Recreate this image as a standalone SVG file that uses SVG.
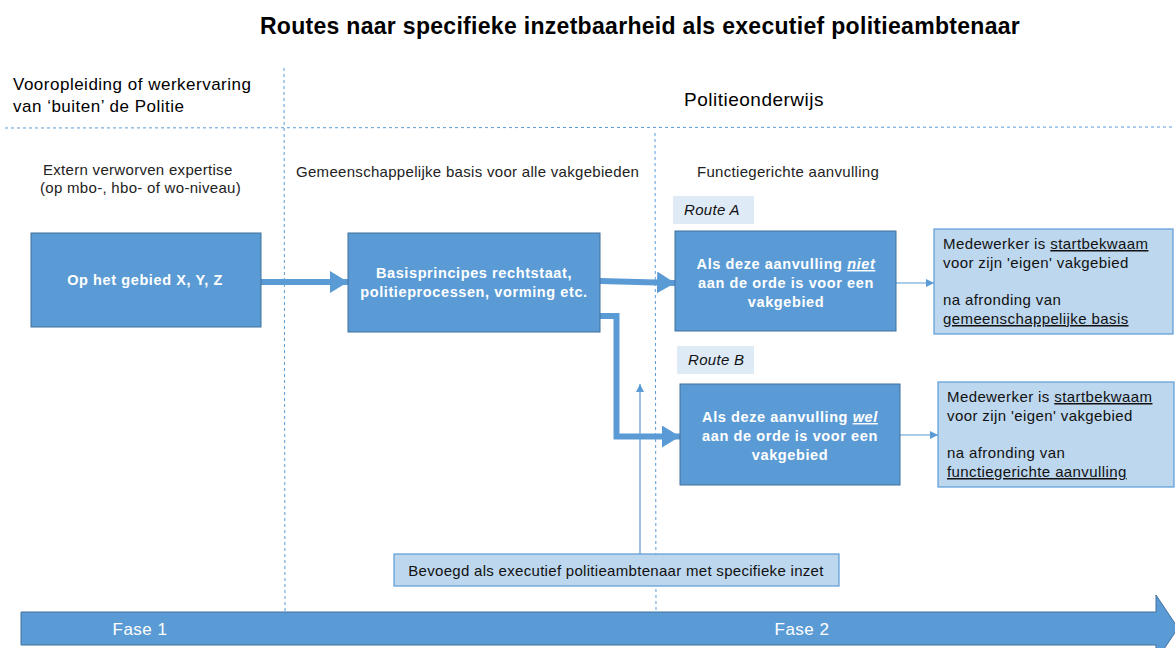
<svg xmlns="http://www.w3.org/2000/svg" width="1175" height="648" viewBox="0 0 1175 648">
  <style>
    text { font-family: "Liberation Sans", Arial, sans-serif; }
    .title { font-size: 23px; font-weight: bold; fill: #000; letter-spacing: 0.3px; }
    .head { font-size: 17px; fill: #000; letter-spacing: 0.5px; }
    .head2 { font-size: 19px; fill: #000; letter-spacing: 0.5px; }
    .sub { font-size: 15px; fill: #222; letter-spacing: 0.3px; }
    .box { fill: #5B9BD5; stroke: #41719C; stroke-width: 1; }
    .lbox { fill: #BDD7EE; stroke: #5B9BD5; stroke-width: 1.2; }
    .tag { fill: #DEEBF7; }
    .btxt { font-size: 14.5px; font-weight: bold; fill: #fff; text-anchor: middle; letter-spacing: 0.6px; }
    .ltxt { font-size: 15px; fill: #111; letter-spacing: 0.4px; }
    .mtxt { font-size: 15px; fill: #111; letter-spacing: 0.3px; }
    .itxt { font-size: 15px; font-style: italic; fill: #111; letter-spacing: 0.3px; }
    .grid { stroke: #5B9BD5; stroke-width: 1; stroke-dasharray: 3 3; fill: none; }
    .thick { stroke: #5B9BD5; stroke-width: 6; fill: none; }
    .thin { stroke: #5B9BD5; stroke-width: 1.2; fill: none; }
    .fase { font-size: 17px; fill: #fff; text-anchor: middle; letter-spacing: 0.5px; }
  </style>
  <defs>
    <marker id="big" markerUnits="userSpaceOnUse" viewBox="0 0 18 22" refX="18" refY="11" markerWidth="18" markerHeight="22" orient="auto">
      <path d="M0,0 L18,11 L0,22 Z" fill="#5B9BD5"/>
    </marker>
    <marker id="small" markerUnits="userSpaceOnUse" viewBox="0 0 8 8" refX="8" refY="4" markerWidth="8" markerHeight="8" orient="auto">
      <path d="M0,0 L8,4 L0,8 Z" fill="#5B9BD5"/>
    </marker>
  </defs>

  <!-- title -->
  <text class="title" x="640" y="34" text-anchor="middle">Routes naar specifieke inzetbaarheid als executief politieambtenaar</text>

  <!-- dashed grid -->
  <g id="grid">
    <line class="grid" x1="5" y1="128" x2="1175" y2="127"/>
    <line class="grid" x1="284" y1="68" x2="285" y2="612"/>
    <line class="grid" x1="655" y1="133" x2="656" y2="612"/>
  </g>

  <!-- column headings -->
  <g id="headings">
    <text class="head" x="13" y="90">Vooropleiding of werkervaring</text>
    <text class="head" x="13" y="112">van ‘buiten’ de Politie</text>
    <text class="head2" x="684" y="106">Politieonderwijs</text>
    <text class="sub" x="43" y="175">Extern verworven  expertise</text>
    <text class="sub" x="40" y="193">(op mbo-, hbo- of wo-niveau)</text>
    <text class="sub" x="296" y="177">Gemeenschappelijke  basis voor alle vakgebieden</text>
    <text class="sub" x="697" y="177">Functiegerichte aanvulling</text>
  </g>

  <!-- connectors -->
  <g id="connectors">
    <line class="thick" x1="261" y1="282" x2="348" y2="282" marker-end="url(#big)"/>
    <line class="thick" x1="600" y1="281" x2="675" y2="283" marker-end="url(#big)"/>
    <polyline class="thick" points="600,316 616.5,316 616.5,436.5 680,436.5" marker-end="url(#big)"/>
    <line class="thin" x1="896" y1="283" x2="934" y2="283" marker-end="url(#small)"/>
    <line class="thin" x1="900" y1="435" x2="938" y2="435" marker-end="url(#small)"/>
    <line class="thin" x1="640" y1="554" x2="640" y2="384" marker-end="url(#small)"/>
  </g>

  <!-- nodes -->
  <g id="node-extern">
    <rect class="box" x="31" y="233" width="230" height="94"/>
    <text class="btxt" x="145" y="285">Op het gebied X, Y, Z</text>
  </g>

  <g id="node-basis">
    <rect class="box" x="348" y="233" width="252" height="99"/>
    <text class="btxt" x="474" y="278">Basisprincipes rechtstaat,</text>
    <text class="btxt" x="474" y="297">politieprocessen, vorming etc.</text>
  </g>

  <g id="tag-route-a">
    <rect class="tag" x="673" y="196" width="81" height="28"/>
    <text class="itxt" x="684" y="215">Route A</text>
  </g>

  <g id="node-route-a">
    <rect class="box" x="675" y="231" width="221" height="100"/>
    <text class="btxt" x="786" y="269">Als deze aanvulling <tspan font-style="italic" text-decoration="underline">niet</tspan></text>
    <text class="btxt" x="786" y="288">aan de orde is voor een</text>
    <text class="btxt" x="786" y="307">vakgebied</text>
  </g>

  <g id="result-a">
    <rect class="lbox" x="934" y="229" width="239" height="105"/>
    <text class="ltxt" x="943" y="249">Medewerker is <tspan text-decoration="underline">startbekwaam</tspan></text>
    <text class="ltxt" x="943" y="268">voor zijn 'eigen' vakgebied</text>
    <text class="ltxt" x="943" y="305">na afronding van</text>
    <text class="ltxt" x="943" y="324" text-decoration="underline">gemeenschappelijke  basis</text>
  </g>

  <g id="tag-route-b">
    <rect class="tag" x="677" y="346" width="77" height="28"/>
    <text class="itxt" x="688" y="365">Route B</text>
  </g>

  <g id="node-route-b">
    <rect class="box" x="680" y="384" width="220" height="101"/>
    <text class="btxt" x="790" y="422">Als deze aanvulling <tspan font-style="italic" text-decoration="underline">wel</tspan></text>
    <text class="btxt" x="790" y="441">aan de orde is voor een</text>
    <text class="btxt" x="790" y="460">vakgebied</text>
  </g>

  <g id="result-b">
    <rect class="lbox" x="938" y="382" width="236" height="105"/>
    <text class="ltxt" x="947" y="402">Medewerker is <tspan text-decoration="underline">startbekwaam</tspan></text>
    <text class="ltxt" x="947" y="421">voor zijn 'eigen' vakgebied</text>
    <text class="ltxt" x="947" y="458">na afronding van</text>
    <text class="ltxt" x="947" y="477" text-decoration="underline">functiegerichte aanvulling</text>
  </g>

  <g id="node-bevoegd">
    <rect class="lbox" x="394" y="554" width="445" height="32"/>
    <text class="mtxt" x="616" y="576" text-anchor="middle">Bevoegd als executief politieambtenaar met specifieke inzet</text>
  </g>

  <!-- phase arrow -->
  <g id="phase-bar">
    <path d="M21,612 L1156,612 L1156,595 L1178,628 L1156,661 L1156,645 L21,645 Z" fill="#5B9BD5" stroke="#41719C" stroke-width="1"/>
    <text class="fase" x="140" y="635">Fase 1</text>
    <text class="fase" x="802" y="635">Fase 2</text>
  </g>
</svg>
